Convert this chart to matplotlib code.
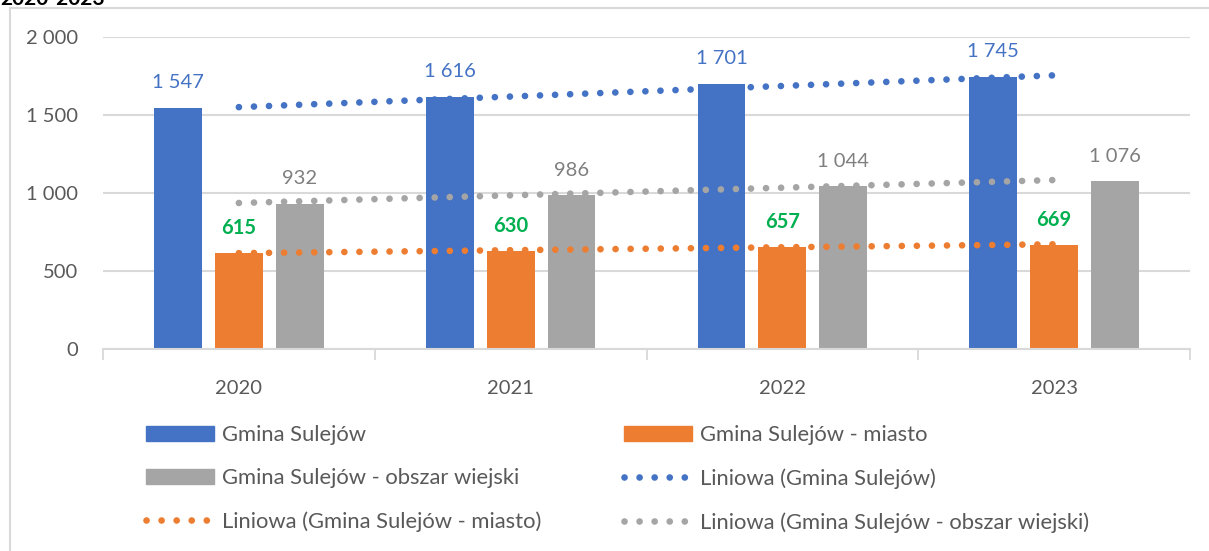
import numpy as np
import matplotlib.pyplot as plt
from matplotlib.patches import Patch
from matplotlib.lines import Line2D

years = ['2020', '2021', '2022', '2023']
gmina = [1547, 1616, 1701, 1745]
miasto = [615, 630, 657, 669]
wies = [932, 986, 1044, 1076]

names = ['Gmina Sulejów', 'Gmina Sulejów - miasto', 'Gmina Sulejów - obszar wiejski']
colors = ['#4472C4', '#ED7D31', '#A5A5A5']
label_colors = ['#4472C4', '#00B050', '#7F7F7F']

plt.rcParams['font.family'] = ['Lato', 'DejaVu Sans']
plt.rcParams['font.size'] = 14.5

def fmt(v):
	return f"{v:,}".replace(",", " ")

fig = plt.figure(figsize=(12.09, 5.51), dpi=100)
ax = fig.add_axes([103/1209, (551-349)/551, (1190-103)/1209, (349-37)/551])

x = np.arange(len(years))
w = 0.176
offs = [-0.224, 0, 0.224]
series = [gmina, miasto, wies]

lw = 4.8
dots = (0, (0.01, 2.25))
for s, off, c, lc, i in zip(series, offs, colors, label_colors, range(3)):
	ax.bar(x + off, s, w, color=c, zorder=2)
	for xi, v in zip(x, s):
		ax.annotate(fmt(v), (xi + off, v), xytext=(0, 18), textcoords='offset points',
			ha='center', va='center', color=lc, fontweight='bold' if i == 1 else 'normal')
	k, b = np.polyfit(x, s, 1)
	ax.plot(x, k*x + b, color=c, lw=lw, linestyle=dots, dash_capstyle='round', zorder=3)

ax.set_xlim(-0.5, 3.5)
ax.set_ylim(0, 2000)
ax.set_yticks([0, 500, 1000, 1500, 2000])
ax.set_yticklabels([fmt(v) for v in [0, 500, 1000, 1500, 2000]])
ax.set_xticks(x)
ax.set_xticklabels(years)
ax.set_xticks([-0.5, 0.5, 1.5, 2.5, 3.5], minor=True)
ax.tick_params(axis='x', which='major', length=0, pad=22, colors='#595959')
ax.tick_params(axis='x', which='minor', length=8, width=1.3, color='#D9D9D9', direction='out')
ax.tick_params(axis='y', length=0, pad=18, colors='#595959')
ax.grid(axis='y', color='#D9D9D9', lw=1.5, zorder=0)
for sp in ['top', 'right', 'left']:
	ax.spines[sp].set_visible(False)
ax.spines['bottom'].set_color('#D9D9D9')
ax.spines['bottom'].set_linewidth(1.5)

handles = [Patch(color=c) for c in colors]
handles += [Line2D([], [], color=c, lw=lw, linestyle=dots, dash_capstyle='round') for c in colors]
labels = names + ['Liniowa (' + n + ')' for n in names]
order = [0, 2, 4, 1, 3, 5]
leg = fig.legend([handles[i] for i in order], [labels[i] for i in order], ncol=2,
	loc='center left', bbox_to_anchor=(146/1209, (551-479)/551), frameon=False,
	fontsize=15.8, borderpad=0, borderaxespad=0, handlelength=3.1, handletextpad=0.36,
	labelspacing=1.05, columnspacing=3.75)
for t in leg.get_texts():
	t.set_color('#595959')

# chart border and cropped title
fig.add_artist(plt.Rectangle((10/1209, -0.1), 1.2, 1.1 - 8/551, transform=fig.transFigure,
	fill=False, edgecolor='#D9D9D9', lw=1.5))
fig.text(0.0, 1 - 5/551, '2020-2023', fontweight='bold', fontsize=15, va='baseline')

fig.savefig('out.png', dpi=100)
